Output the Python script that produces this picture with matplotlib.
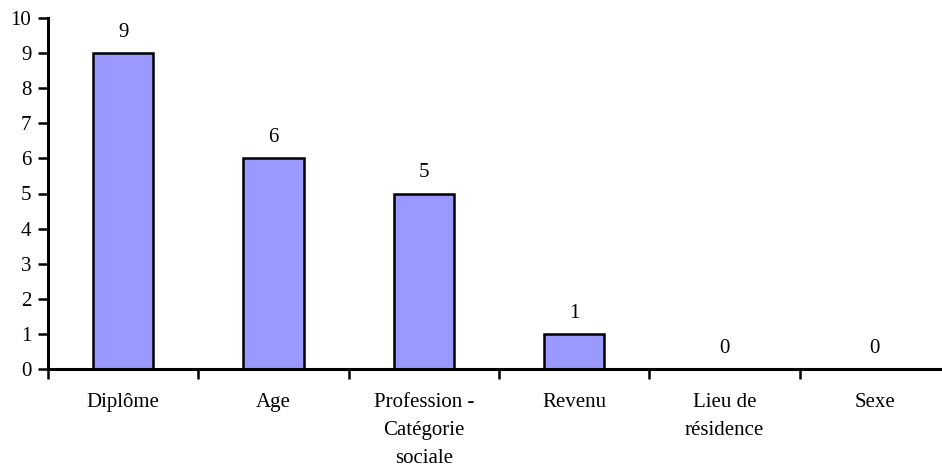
import matplotlib
matplotlib.use("Agg")
import matplotlib.pyplot as plt

categories = ["Diplôme", "Age", "Profession -\nCatégorie\nsociale", "Revenu", "Lieu de\nrésidence", "Sexe"]
values = [9, 6, 5, 1, 0, 0]
yticks = list(range(0, 11))

plt.rcParams['font.family'] = ['Liberation Serif', 'DejaVu Serif']

fig = plt.figure(figsize=(9.42, 4.70), dpi=100)
W, H = 942, 470
left, right, top, bottom = 48, 950, 18, 369
ax = fig.add_axes([left / W, 1 - bottom / H, (right - left) / W, (bottom - top) / H])

x = list(range(len(categories)))
ax.bar(x, values, width=0.4, color="#9999FF", edgecolor="black", linewidth=1.8, zorder=2)

for xi, v in zip(x, values):
    ax.annotate(str(v), (xi, v), xytext=(0, 15), textcoords="offset points",
                ha="center", va="center", fontsize=15)

ax.set_xlim(-0.5, len(categories) - 0.5)
ax.set_ylim(0, 10)
ax.set_yticks(yticks)
ax.set_yticklabels([str(t) for t in yticks], fontsize=15)
ax.set_xticks([i + 0.5 for i in range(-1, len(categories))])
ax.set_xticklabels([])
ax.set_xticks(x, minor=True)
ax.set_xticklabels(categories, minor=True, fontsize=15, linespacing=1.62, va="top")
ax.tick_params(axis="x", which="minor", length=0, pad=17.5)
ax.tick_params(axis="x", which="major", length=7, width=1.8, direction="out")
ax.tick_params(axis="y", length=7, width=1.8, direction="out", pad=5)

for s in ["top", "right"]:
    ax.spines[s].set_visible(False)
for s in ["left", "bottom"]:
    ax.spines[s].set_linewidth(2.2)
    ax.spines[s].set_zorder(3)

fig.savefig("out.png", dpi=100)
